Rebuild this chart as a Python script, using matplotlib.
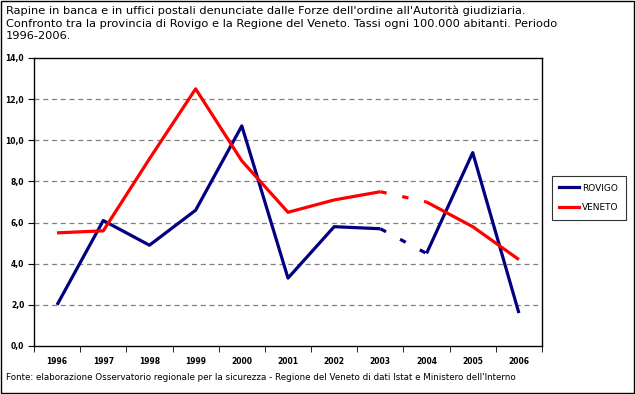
import matplotlib
matplotlib.use("Agg")
import matplotlib.pyplot as plt
from matplotlib.lines import Line2D
from matplotlib.ticker import FuncFormatter, FixedLocator

anni = ["1996", "1997", "1998", "1999", "2000", "2001", "2002", "2003", "2004", "2005", "2006"]
rovigo = [2.0, 6.1, 4.9, 6.6, 10.7, 3.3, 5.8, 5.7, 4.5, 9.4, 1.6]
veneto = [5.5, 5.6, 9.1, 12.5, 9.0, 6.5, 7.1, 7.5, 7.0, 5.8, 4.2]

# il tratto 2003-2004 e' tratteggiato
rotto = 7

plt.rcParams['font.family'] = ['DejaVu Sans']

fig = plt.figure(figsize=(6.35, 3.94), dpi=100)
ax = fig.add_axes([34/635, 48/394, 508/635, 288/394])

x = list(range(len(anni)))
for serie, col in [(rovigo, "#000080"), (veneto, "#ff0000")]:
    ax.plot(x[:rotto+1], serie[:rotto+1], color=col, lw=2.3, solid_capstyle='butt')
    ax.plot(x[rotto:rotto+2], serie[rotto:rotto+2], color=col, lw=2.3, ls=(0, (2, 5)))
    ax.plot(x[rotto+1:], serie[rotto+1:], color=col, lw=2.3, solid_capstyle='butt')

ax.set_xlim(-0.5, len(anni) - 0.5)
ax.set_ylim(0, 14)
ax.set_yticks(range(0, 15, 2))
ax.yaxis.set_major_formatter(FuncFormatter(lambda v, p: f"{v:.1f}".replace(".", ",")))
ax.set_xticks(x)
ax.set_xticklabels(anni)
ax.xaxis.set_minor_locator(FixedLocator([i - 0.5 for i in range(len(anni) + 1)]))
ax.tick_params(axis='x', which='major', length=0, pad=8, labelsize=5.5)
ax.tick_params(axis='x', which='minor', length=4, direction='out')
ax.tick_params(axis='y', length=4, direction='out', labelsize=5.5, pad=3)
for lab in ax.get_xticklabels() + ax.get_yticklabels():
    lab.set_fontweight('bold')
for yv in range(2, 14, 2):
    ax.axhline(yv, color="#808080", lw=0.9, ls=(0, (4, 3)), zorder=0)
for s in ax.spines.values():
    s.set_linewidth(1.0)

handles = [Line2D([], [], color="#000080", lw=2.3), Line2D([], [], color="#ff0000", lw=2.3)]
leg = fig.legend(handles, ["ROVIGO", "VENETO"], loc='center', bbox_to_anchor=(589/635, 1 - 198/394),
                 fontsize=6.5, frameon=True, fancybox=False, edgecolor='black', handlelength=2.2,
                 handletextpad=0.3, borderpad=0.8, labelspacing=1.2)
leg.get_frame().set_linewidth(0.8)

fig.text(6/635, 1 - 6/394, "Rapine in banca e in uffici postali denunciate dalle Forze dell'ordine all'Autorità giudiziaria.\n"
         "Confronto tra la provincia di Rovigo e la Regione del Veneto. Tassi ogni 100.000 abitanti. Periodo\n1996-2006.",
         fontsize=8.2, va='top', ha='left', linespacing=1.26)
fig.text(6/635, 1 - 378/394, "Fonte: elaborazione Osservatorio regionale per la sicurezza - Regione del Veneto di dati Istat e Ministero dell'Interno",
         fontsize=6.3, va='center', ha='left')

fig.patches.append(plt.Rectangle((0.002, 0.003), 0.996, 0.994, transform=fig.transFigure,
                                 fill=False, edgecolor='black', lw=1.0))

fig.savefig("out.png", dpi=100)
